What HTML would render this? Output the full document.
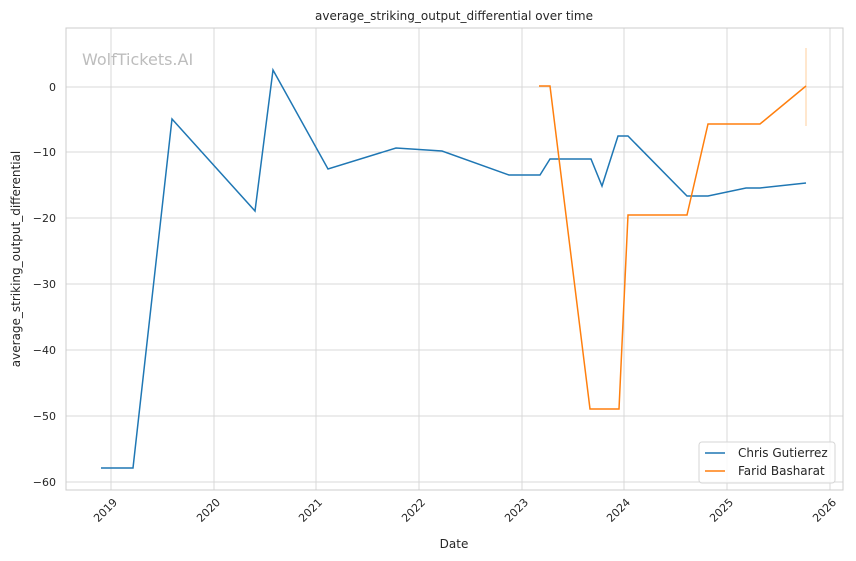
<!DOCTYPE html>
<html><head><meta charset="utf-8"><style>
body{margin:0;background:#fff;}
svg{display:block;font-family:"DejaVu Sans","Liberation Sans",sans-serif;}
</style></head><body>
<svg width="856" height="561" viewBox="0 0 856 561" xmlns="http://www.w3.org/2000/svg">
<rect width="856" height="561" fill="#fff"/>
<g stroke="#d9d9d9" stroke-width="1">
<line x1="111" y1="28" x2="111" y2="490"/><line x1="214" y1="28" x2="214" y2="490"/>
<line x1="316" y1="28" x2="316" y2="490"/><line x1="419" y1="28" x2="419" y2="490"/>
<line x1="522" y1="28" x2="522" y2="490"/><line x1="624" y1="28" x2="624" y2="490"/>
<line x1="727" y1="28" x2="727" y2="490"/><line x1="830" y1="28" x2="830" y2="490"/>
<line x1="66" y1="87" x2="843" y2="87"/><line x1="66" y1="152" x2="843" y2="152"/>
<line x1="66" y1="218" x2="843" y2="218"/><line x1="66" y1="284" x2="843" y2="284"/>
<line x1="66" y1="350" x2="843" y2="350"/><line x1="66" y1="416" x2="843" y2="416"/>
<line x1="66" y1="482" x2="843" y2="482"/>
</g>
<rect x="66" y="28" width="777" height="462" fill="none" stroke="#cccccc" stroke-width="1"/>
<text x="82" y="65" font-size="16" fill="#bdbdbd">WolfTickets.AI</text>
<line x1="806" y1="48" x2="806" y2="126" stroke="#ffcf9e" stroke-width="1"/>
<polyline fill="none" stroke="#1f77b4" stroke-width="1.5" points="101,468 133,468 172,119 255,211 273,70 328,169 396,148 442,151 509,175 540,175 550,159 591,159 602,186 618,136 628,136 687,196 708,196 746,188 760,188 806,183"/>
<polyline fill="none" stroke="#ff7f0e" stroke-width="1.5" points="539,86 550,86 590,409 619,409 628,215 687,215 708,124 760,124 806,86"/>
<g font-size="11" fill="#262626" text-anchor="end">
<text x="56" y="91">0</text><text x="56" y="156">−10</text><text x="56" y="222">−20</text>
<text x="56" y="288">−30</text><text x="56" y="354">−40</text><text x="56" y="420">−50</text><text x="56" y="486">−60</text>
</g>
<g font-size="11" fill="#262626" text-anchor="end">
<text transform="translate(118,503) rotate(-45)">2019</text>
<text transform="translate(221,503) rotate(-45)">2020</text>
<text transform="translate(323,503) rotate(-45)">2021</text>
<text transform="translate(426,503) rotate(-45)">2022</text>
<text transform="translate(529,503) rotate(-45)">2023</text>
<text transform="translate(631,503) rotate(-45)">2024</text>
<text transform="translate(734,503) rotate(-45)">2025</text>
<text transform="translate(837,503) rotate(-45)">2026</text>
</g>
<text x="454" y="548" font-size="12" fill="#262626" text-anchor="middle">Date</text>
<text transform="translate(20,259) rotate(-90)" font-size="12" fill="#262626" text-anchor="middle">average_striking_output_differential</text>
<text x="454" y="20" font-size="12" fill="#262626" text-anchor="middle">average_striking_output_differential over time</text>
<rect x="699" y="442" width="136" height="41" rx="3" fill="#fff" fill-opacity="0.8" stroke="#d6d6d6"/>
<line x1="705" y1="453" x2="725" y2="453" stroke="#1f77b4" stroke-width="1.5"/>
<text x="738" y="457" font-size="12" fill="#262626">Chris Gutierrez</text>
<line x1="705" y1="471" x2="725" y2="471" stroke="#ff7f0e" stroke-width="1.5"/>
<text x="738" y="475" font-size="12" fill="#262626">Farid Basharat</text>
</svg>
</body></html>
